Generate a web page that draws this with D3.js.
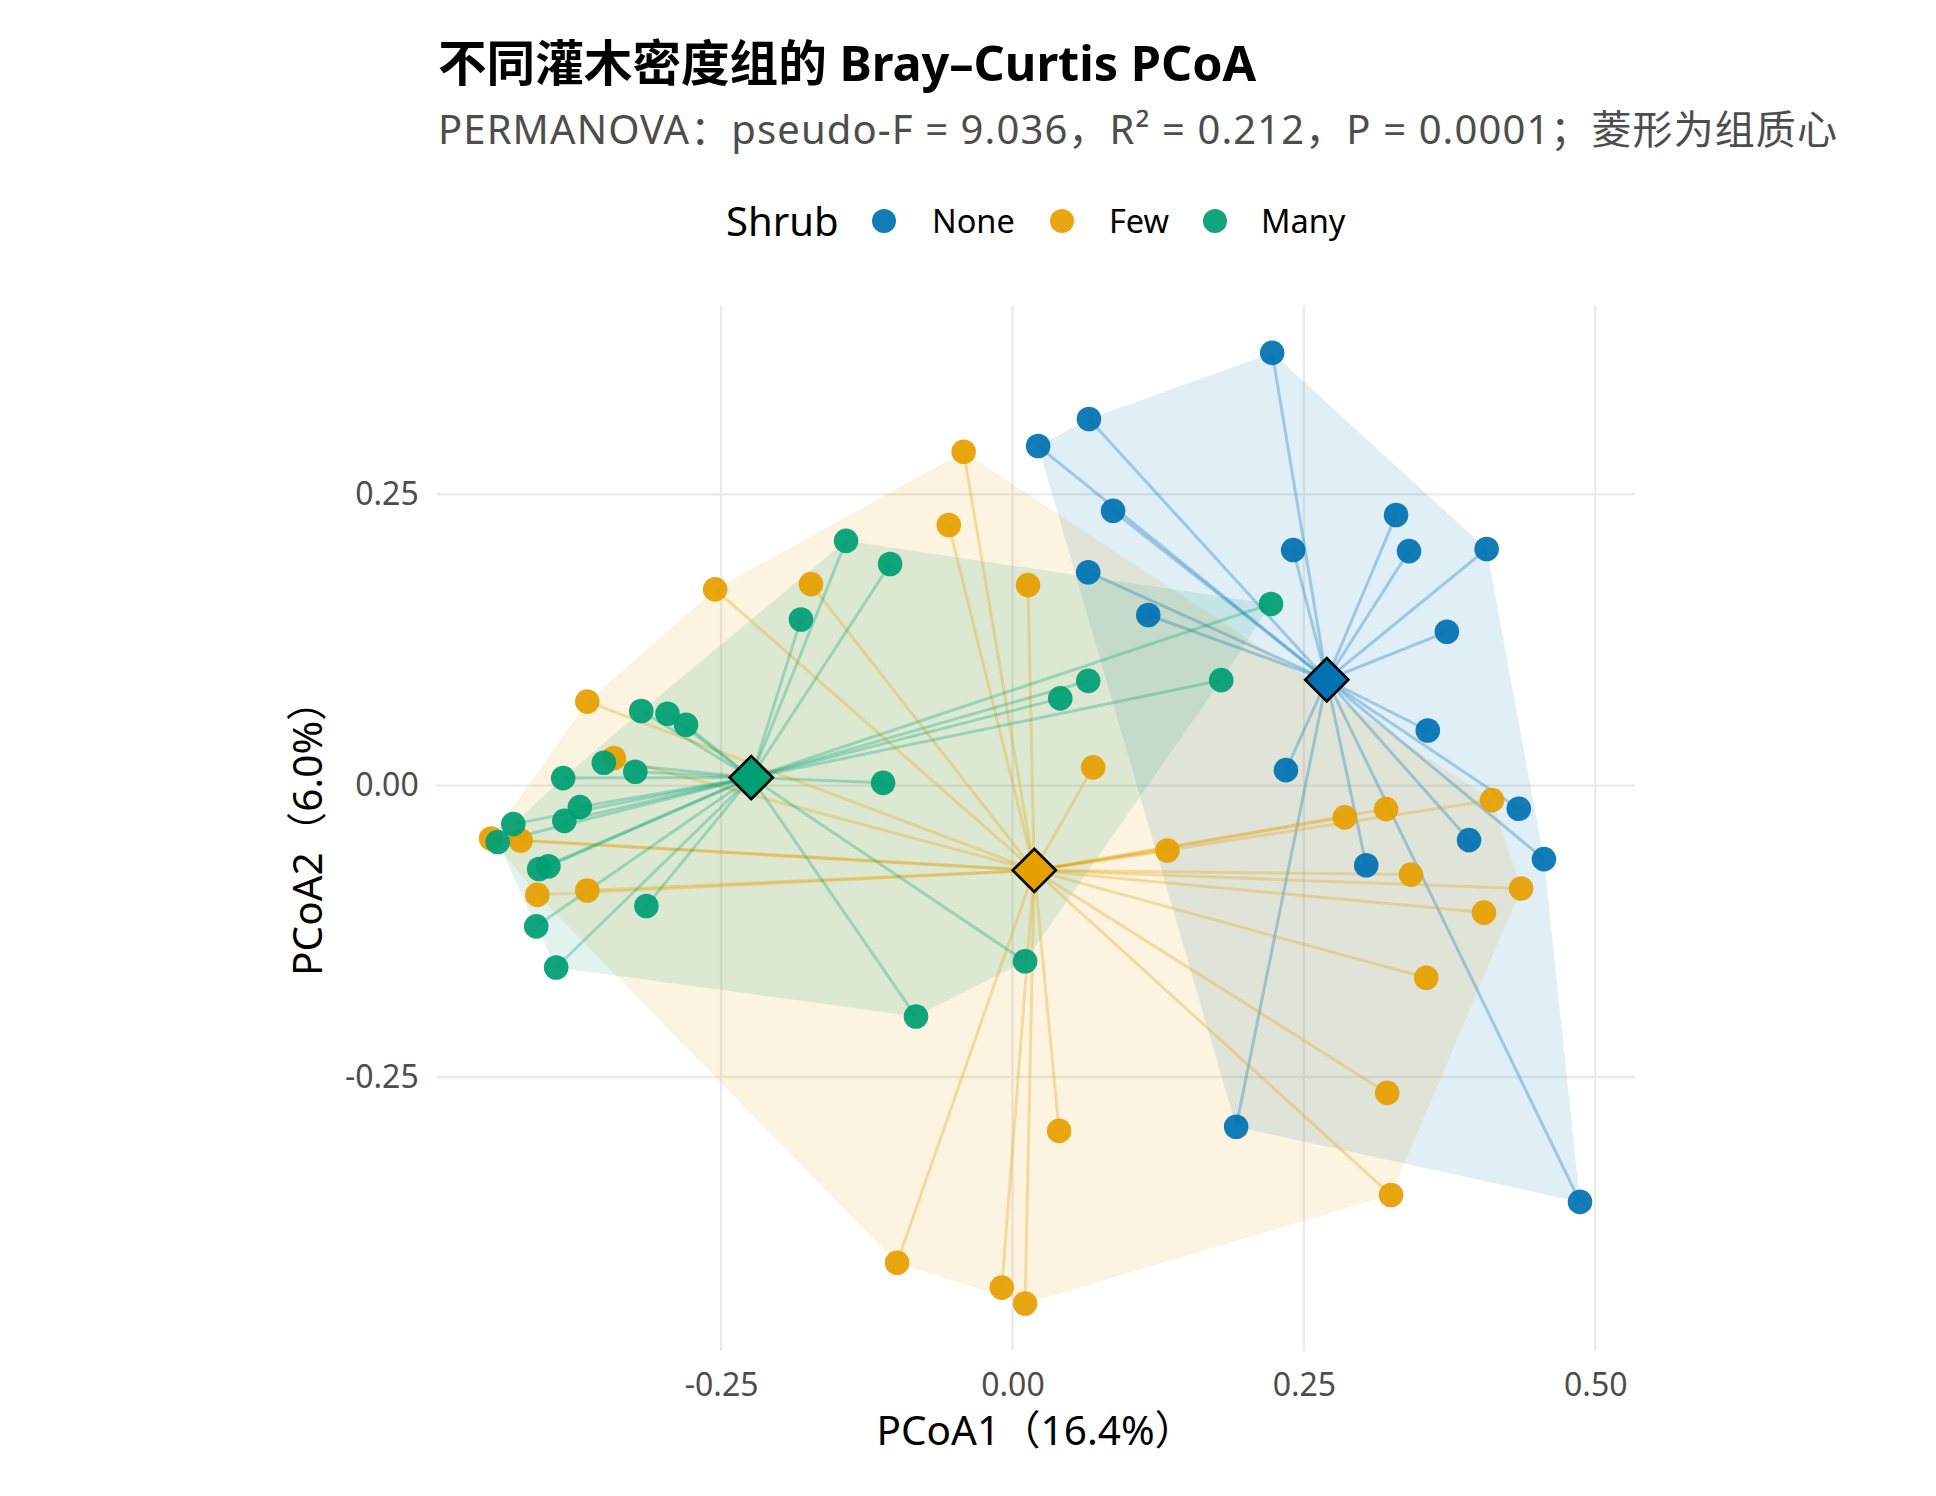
<!DOCTYPE html>
<html><head><meta charset="utf-8">
<script src="https://cdn.jsdelivr.net/npm/d3@7"></script>
<style>
body{margin:0;background:#fff}
text{font-family:"Noto Sans","Noto Sans CJK SC",sans-serif}
</style>
</head><body>
<svg id="chart" width="1936" height="1496"></svg>
<script>
// ---- data ----
const groups = ["None", "Few", "Many"];
const groupColors = ["#0072B2", "#E69F00", "#009E73"];

const noneX = [0.2228, 0.0656, 0.0220, 0.0863, 0.3291, 0.2408, 0.3402, 0.4068, 0.0650, 0.1165, 0.3727, 0.3563, 0.2346, 0.4344, 0.3917, 0.4560, 0.3035, 0.1919, 0.4869];
const noneY = [0.3713, 0.3145, 0.2914, 0.2358, 0.2322, 0.2021, 0.2012, 0.2030, 0.1831, 0.1464, 0.1320, 0.0473, 0.0133, -0.0198, -0.0467, -0.0630, -0.0683, -0.2926, -0.3571];

const fewX = [-0.0419, -0.0546, -0.1729, 0.0133, -0.2551, -0.3648, -0.3420, 0.0692, 0.1329, 0.2851, 0.3205, 0.4114, 0.3419, 0.4364, 0.4045, 0.3550, 0.3215, 0.3248, 0.0400, -0.0990, -0.0092, 0.0108, -0.4077, -0.3648, -0.4473, -0.4220];
const fewY = [0.2865, 0.2236, 0.1729, 0.1720, 0.1684, 0.0721, 0.0237, 0.0157, -0.0556, -0.0272, -0.0201, -0.0124, -0.0763, -0.0882, -0.1089, -0.1648, -0.2636, -0.3512, -0.2962, -0.4093, -0.4306, -0.4442, -0.0937, -0.0899, -0.0453, -0.0470];

const manyX = [0.2218, 0.1791, 0.0650, 0.0410, 0.0108, -0.0828, -0.1110, -0.1428, -0.1050, -0.1815, -0.3185, -0.2960, -0.2801, -0.3506, -0.3236, -0.3855, -0.3712, -0.3845, -0.4283, -0.4416, -0.4061, -0.3982, -0.3141, -0.4086, -0.3915];
const manyY = [0.1559, 0.0905, 0.0899, 0.0749, -0.1507, -0.1981, 0.0024, 0.2100, 0.1901, 0.1426, 0.0641, 0.0617, 0.0522, 0.0196, 0.0119, 0.0065, -0.0184, -0.0302, -0.0330, -0.0483, -0.0715, -0.0691, -0.1032, -0.1207, -0.1560];

const xTicks = [-0.25, 0, 0.25, 0.5];
const yTicks = [-0.25, 0, 0.25];
const xDomain = [-0.494, 0.534];
const yDomain = [-0.485, 0.412];

const titleText = "不同灌木密度组的 Bray–Curtis PCoA";
const subtitleText = "PERMANOVA：pseudo-F = 9.036，R² = 0.212，P = 0.0001；菱形为组质心";
const xTitle = "PCoA1（16.4%）";
const yTitle = "PCoA2（6.0%）";
const legendTitle = "Shrub";

// ---- build ----
const seriesX = [noneX, fewX, manyX];
const seriesY = [noneY, fewY, manyY];
const data = groups.map((g, i) => ({
  group: g, color: groupColors[i],
  pts: seriesX[i].map((v, j) => [v, seriesY[i][j]])
}));
data.forEach(d => { d.cx = d3.mean(d.pts, p => p[0]); d.cy = d3.mean(d.pts, p => p[1]); });

const svg = d3.select("#chart");
svg.append("rect").attr("width", 1936).attr("height", 1496).attr("fill", "#fff");

const pL = 436.7, pR = 1634.9, pT = 305.4, pB = 1351;
const x = d3.scaleLinear().domain(xDomain).range([pL, pR]);
const y = d3.scaleLinear().domain(yDomain).range([pB, pT]);

// grid
const grid = svg.append("g");
grid.append("g").selectAll("line").data(xTicks).join("line")
  .attr("x1", d => x(d)).attr("x2", d => x(d)).attr("y1", pT).attr("y2", pB)
  .attr("stroke", "#EBEBEB").attr("stroke-width", 2.4);
grid.append("g").selectAll("line").data(yTicks).join("line")
  .attr("y1", d => y(d)).attr("y2", d => y(d)).attr("x1", pL).attr("x2", pR)
  .attr("stroke", "#EBEBEB").attr("stroke-width", 2.4);

// hulls
svg.append("g").selectAll("path").data(data).join("path")
  .attr("d", d => "M" + d3.polygonHull(d.pts.map(p => [x(p[0]), y(p[1])])).join("L") + "Z")
  .attr("fill", d => d.color).attr("fill-opacity", 0.12).attr("stroke", "none");

// spiders
const sp = svg.append("g");
data.forEach(d => {
  sp.append("g").selectAll("line").data(d.pts).join("line")
    .attr("x1", x(d.cx)).attr("y1", y(d.cy))
    .attr("x2", p => x(p[0])).attr("y2", p => y(p[1]))
    .attr("stroke", d.color).attr("stroke-opacity", 0.3).attr("stroke-width", 3);
});

// points
const pg = svg.append("g");
data.forEach(d => {
  pg.append("g").selectAll("circle").data(d.pts).join("circle")
    .attr("cx", p => x(p[0])).attr("cy", p => y(p[1])).attr("r", 12.3)
    .attr("fill", d.color).attr("fill-opacity", 0.93);
});

// centroids
svg.append("g").selectAll("path").data(data).join("path")
  .attr("d", d3.symbol(d3.symbolSquare, 930))
  .attr("transform", d => `translate(${x(d.cx)},${y(d.cy)}) rotate(45)`)
  .attr("fill", d => d.color).attr("stroke", "#000").attr("stroke-width", 2.6);

// axes
const xa = svg.append("g").attr("transform", `translate(0,${pB})`)
  .call(d3.axisBottom(x).tickValues(xTicks).tickFormat(d => d.toFixed(2)).tickSize(0).tickPadding(22));
const ya = svg.append("g").attr("transform", `translate(${pL},0)`)
  .call(d3.axisLeft(y).tickValues(yTicks).tickFormat(d => d.toFixed(2)).tickSize(0).tickPadding(18));
[xa, ya].forEach(a => {
  a.select(".domain").remove();
  a.selectAll("text").attr("font-size", 32).attr("fill", "#4D4D4D")
    .attr("font-family", '"Noto Sans","Noto Sans CJK SC",sans-serif');
});

// axis titles
svg.append("text").attr("x", (pL + pR) / 2).attr("y", 1445)
  .attr("text-anchor", "middle").attr("font-size", 40.5).attr("fill", "#000").text(xTitle);
svg.append("text").attr("transform", `translate(${322},${(pT + pB) / 2}) rotate(-90)`)
  .attr("text-anchor", "middle").attr("font-size", 40.5).attr("fill", "#000").text(yTitle);

// title & subtitle
svg.append("text").attr("x", 438).attr("y", 81).attr("font-size", 48.6).attr("font-weight", "bold")
  .attr("fill", "#000").text(titleText);
svg.append("text").attr("x", 438).attr("y", 144).attr("font-size", 40)
  .attr("fill", "#4D4D4D").attr("letter-spacing", 1.1).text(subtitleText);

// legend
const lg = svg.append("g");
lg.append("text").attr("x", 726).attr("y", 236).attr("font-size", 40).attr("fill", "#000").text(legendTitle);
const keyX = [884, 1062, 1215];
const labX = [932, 1109, 1261];
groups.forEach((g, i) => {
  lg.append("circle").attr("cx", keyX[i]).attr("cy", 221).attr("r", 12)
    .attr("fill", groupColors[i]).attr("fill-opacity", 0.93);
  lg.append("text").attr("x", labX[i]).attr("y", 233).attr("font-size", 32.5).attr("fill", "#000").text(g);
});
</script>
</body></html>
